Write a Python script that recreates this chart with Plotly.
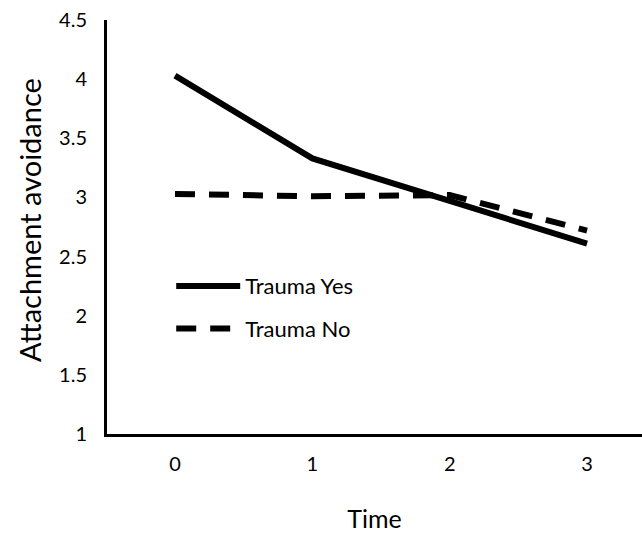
import plotly.graph_objects as go

time_points = [0, 1, 2, 3]
tick_labels = ["0", "1", "2", "3"]
trauma_yes = [4.03, 3.33, 2.97, 2.61]
trauma_no = [3.03, 3.01, 3.02, 2.72]
y_ticks = [1, 1.5, 2, 2.5, 3, 3.5, 4, 4.5]
y_tick_labels = ["1", "1.5", "2", "2.5", "3", "3.5", "4", "4.5"]

FONT = "Lato"

fig = go.Figure()
fig.add_trace(go.Scatter(
    x=time_points, y=trauma_yes, mode="lines", name="Trauma Yes",
    legendgroup="yes",
    line=dict(color="black", width=6),
))
fig.add_trace(go.Scatter(
    x=time_points, y=trauma_no, mode="lines", name="Trauma No",
    legendgroup="no",
    line=dict(color="black", width=6, dash="20px,14px"),
))

fig.update_layout(
    width=642, height=542,
    margin=dict(l=107, r=0, t=20, b=108),
    paper_bgcolor="white", plot_bgcolor="white",
    font=dict(family=FONT, color="black", size=20),
    showlegend=True,
    legend=dict(
        x=0.12, y=0.408, xanchor="left", yanchor="top",
        bgcolor="rgba(0,0,0,0)", font=dict(size=22, family=FONT),
        tracegroupgap=11, itemwidth=64,
    ),
    xaxis=dict(
        range=[-0.495, 3.40], tickvals=time_points, ticktext=tick_labels,
        showgrid=False, zeroline=False, showline=True, linecolor="black",
        linewidth=3, ticks="", ticklabelstandoff=10, automargin=False,
        ticklabeloverflow="allow",
        title=dict(text="Time", font=dict(size=25, family=FONT), standoff=37),
        tickfont=dict(size=20),
    ),
    yaxis=dict(
        range=[1, 4.5], tickvals=y_ticks, ticktext=y_tick_labels,
        showgrid=False, zeroline=False, showline=True, linecolor="black",
        linewidth=3, ticks="", ticklabelstandoff=13, automargin=False,
        ticklabeloverflow="allow",
        tickfont=dict(size=20),
    ),
    annotations=[dict(
        text="Attachment avoidance", textangle=-90, showarrow=False,
        xref="paper", yref="paper", x=-0.144, y=0.517,
        xanchor="center", yanchor="middle",
        font=dict(size=29, family=FONT, color="black"),
    )],
)

fig.write_html(
    "out.html",
    config={"displayModeBar": False},
    post_script="document.body.style.margin='0';document.body.style.overflow='hidden';",
)
